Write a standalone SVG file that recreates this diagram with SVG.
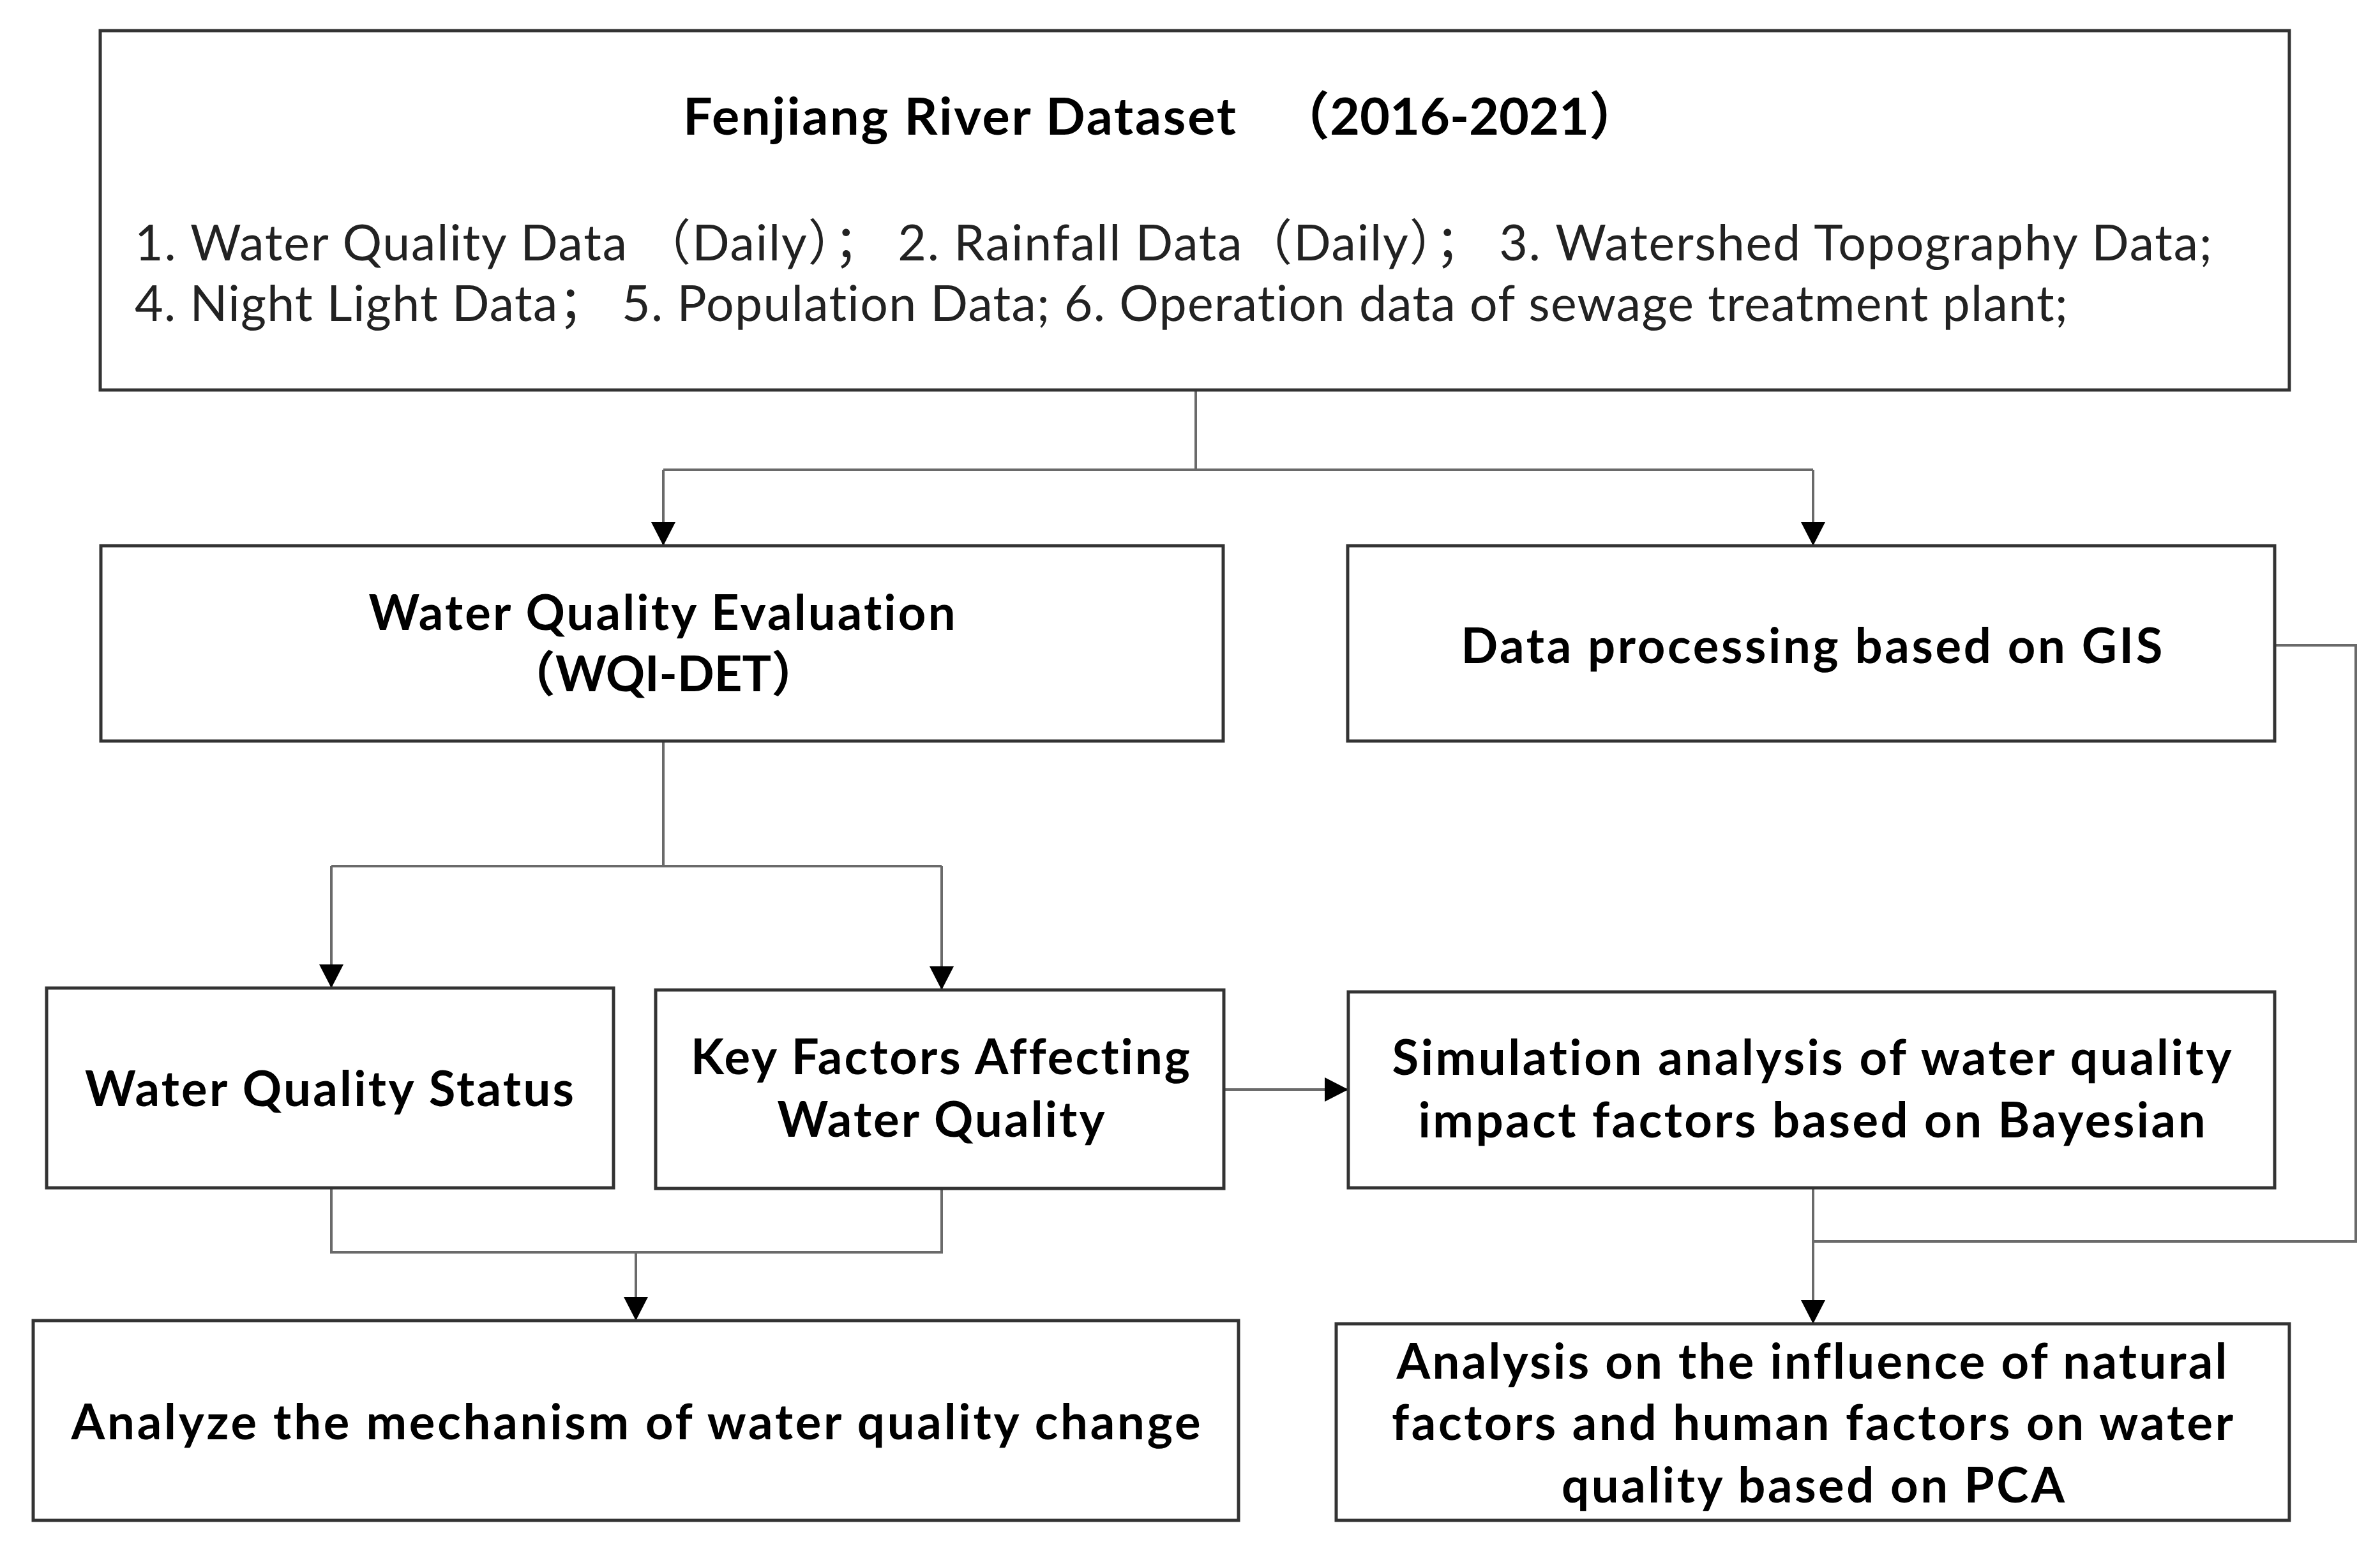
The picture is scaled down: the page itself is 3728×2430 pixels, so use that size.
<svg xmlns="http://www.w3.org/2000/svg" width="3728" height="2430" viewBox="0 0 3728 2430">
<style>
.box{fill:#ffffff;stroke:#333333;stroke-width:5}
.t{font-family:Lato,"Noto Sans CJK SC",sans-serif;fill:#000000;font-variant-ligatures:none;font-feature-settings:"liga" 0,"clig" 0}
.b{font-weight:bold;font-size:76px}
.h{font-weight:bold;font-size:81px}
.r{font-weight:normal;font-size:77px;fill:#222222}
.c{fill:none;stroke:#6a6a6a;stroke-width:4}
</style>
<defs>
<marker id="arr" markerUnits="userSpaceOnUse" markerWidth="38" markerHeight="38" refX="37" refY="19" orient="auto">
<path d="M0,0 L37,19 L0,38 Z" fill="#000000"/>
</marker>
</defs>
<rect width="3728" height="2430" fill="#ffffff"/>
<g id="connectors">
<path class="c" d="M1873,611 V736"/>
<path class="c" d="M1039,736 H2840"/>
<path class="c" d="M1039,736 V855" marker-end="url(#arr)"/>
<path class="c" d="M2840,736 V855" marker-end="url(#arr)"/>
<path class="c" d="M1039,1161 V1357"/>
<path class="c" d="M519,1357 H1475"/>
<path class="c" d="M519,1357 V1548" marker-end="url(#arr)"/>
<path class="c" d="M1475,1357 V1551" marker-end="url(#arr)"/>
<path class="c" d="M519,1861 V1962 H1475 V1864"/>
<path class="c" d="M996,1962 V2069" marker-end="url(#arr)"/>
<path class="c" d="M1917,1707 H2112" marker-end="url(#arr)"/>
<path class="c" d="M2840,1862 V2074" marker-end="url(#arr)"/>
<path class="c" d="M3564,1011 H3690 V1945 H2840"/>
</g>
<g id="dataset">
<rect class="box" x="157" y="48" width="3429" height="563"/>
<text class="t h" x="1070" y="211" textLength="866">Fenjiang River Dataset</text>
<text class="t h" x="2286" y="211" text-anchor="middle">（2016-2021）</text>
<text class="t r" x="211" y="408" textLength="3254">1. Water Quality Data （Daily）； 2. Rainfall Data（Daily）； 3. Watershed Topography Data;</text>
<text class="t r" x="211" y="503" textLength="3028">4. Night Light Data；  5. Population Data; 6. Operation data of sewage treatment plant;</text>
</g>
<g id="wqe">
<rect class="box" x="158" y="855" width="1758" height="306"/>
<text class="t b" x="1037" y="987" text-anchor="middle" textLength="919">Water Quality Evaluation</text>
<text class="t b" x="1039" y="1083" text-anchor="middle">（WQI-DET）</text>
</g>
<g id="gis">
<rect class="box" x="2111" y="855" width="1452" height="306"/>
<text class="t b" x="2838" y="1039" text-anchor="middle" textLength="1099">Data processing based on GIS</text>
</g>
<g id="wqs">
<rect class="box" x="73" y="1548" width="888" height="313"/>
<text class="t b" x="516" y="1733" text-anchor="middle" textLength="766">Water Quality Status</text>
</g>
<g id="kf">
<rect class="box" x="1027" y="1551" width="890" height="311"/>
<text class="t b" x="1473" y="1683" text-anchor="middle" textLength="782">Key Factors Affecting</text>
<text class="t b" x="1474" y="1781" text-anchor="middle" textLength="513">Water Quality</text>
</g>
<g id="sim">
<rect class="box" x="2112" y="1554" width="1451" height="307"/>
<text class="t b" x="2838" y="1684" text-anchor="middle" textLength="1315">Simulation analysis of water quality</text>
<text class="t b" x="2838" y="1782" text-anchor="middle" textLength="1233">impact factors based on Bayesian</text>
</g>
<g id="am">
<rect class="box" x="52" y="2069" width="1888" height="313"/>
<text class="t b" x="996" y="2255" text-anchor="middle" textLength="1769">Analyze the mechanism of water quality change</text>
</g>
<g id="pca">
<rect class="box" x="2093" y="2074" width="1493" height="308"/>
<text class="t b" x="2838" y="2160" text-anchor="middle" textLength="1301">Analysis on the influence of natural</text>
<text class="t b" x="2839" y="2256" text-anchor="middle" textLength="1318">factors and human factors on water</text>
<text class="t b" x="2840" y="2354" text-anchor="middle" textLength="788">quality based on PCA</text>
</g>
</svg>
